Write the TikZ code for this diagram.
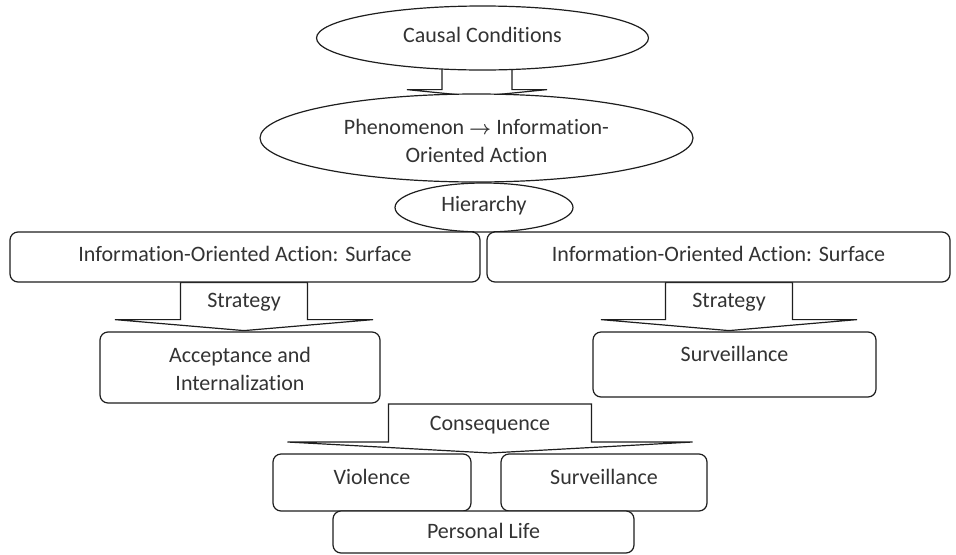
\documentclass[tikz,border=0pt]{standalone}
\usepackage{fontspec}
\setmainfont{Carlito}[Ligatures=NoCommon]
\usetikzlibrary{shapes.geometric,calc,backgrounds}

\definecolor{inkline}{HTML}{1E1E1E}
\definecolor{inktext}{HTML}{333333}

% Block arrow pointing down: #1 top-centre coordinate, #2 stem half width,
% #3 head half width, #4 stem length, #5 head depth
\newcommand\blockdown[5]{%
  \filldraw[blockarrow] ($#1+(-#2,0)$) -- ++(0,#4) -- ++({#2-#3},0)
    -- ($#1+(0,{#4+#5})$) -- ($#1+(#3,#4)$) -- ++({#2-#3},0)
    -- ++(0,-#4) -- cycle;}

\begin{document}
\begin{tikzpicture}[x=0.75pt,y=-0.75pt,
  every node/.style={font=\fontsize{16.5}{21}\selectfont, text=inktext},
  oval/.style={ellipse, draw=inkline, fill=white, line width=0.9pt, inner sep=0pt},
  card/.style={draw=inkline, fill=white, rounded corners=6pt, line width=0.9pt, inner sep=0pt},
  label/.style={inner sep=1pt, align=center},
  blockarrow/.style={draw=inkline, fill=white, line width=0.9pt, line join=miter}]
\useasboundingbox (0,0) rectangle (956,554);

% top chain
\node[oval, minimum width=249pt, minimum height=48pt] (cause) at (482.5,38) {};
\node[label] (causetext) at (482.5,35) {Causal Conditions};
\node[oval, minimum width=324.75pt, minimum height=66pt] (phen) at (476.5,138) {};
\node[label] (phentext) at (476.5,141) {Phenomenon {\fontsize{15}{21}\selectfont\boldmath$\rightarrow$} Information-\\Oriented Action};
\node[oval, minimum width=133.5pt, minimum height=36.75pt] (hier) at (484,207.5) {};
\node[label] (hiertext) at (484,206) {Hierarchy};

% surface boxes
\node[card, minimum width=352.5pt, minimum height=37.5pt] (surfL) at (245,257) {};
\node[label] (surfLtext) at (245,254) {Information-Oriented Action: Surface};
\node[card, minimum width=347.25pt, minimum height=37.5pt] (surfR) at (718.5,257) {};
\node[label] (surfRtext) at (718.5,254) {Information-Oriented Action: Surface};

% strategy outcomes
\node[card, minimum width=210pt, minimum height=53.25pt] (accept) at (240,367.5) {};
\node[label] (accepttext) at (240,369) {Acceptance and\\Internalization};
\node[card, minimum width=212.25pt, minimum height=48.75pt] (survR) at (734.5,364.5) {};
\node[label] (survRtext) at (734.5,354) {Surveillance};

% consequences
\node[card, minimum width=148.5pt, minimum height=42.75pt] (viol) at (372,482.5) {};
\node[label] (violtext) at (372,477) {Violence};
\node[card, minimum width=154.5pt, minimum height=42.75pt] (surv2) at (604,482.5) {};
\node[label] (surv2text) at (604,477) {Surveillance};
\node[card, minimum width=225.75pt, minimum height=31.5pt] (life) at (483.5,532) {};
\node[label] (lifetext) at (483.5,531) {Personal Life};

\coordinate (causeaxis) at ($(cause.south)+(-5.5,-10)$);
\coordinate (stratL) at ($(surfL.south)+(-1,0)$);
\coordinate (stratR) at ($(surfR.south)+(10.5,0)$);
\coordinate (conseq) at (490,404);

\begin{scope}[on background layer]
  \blockdown{(causeaxis)}{35}{70}{29}{7}
  \blockdown{(stratL)}{63.5}{129}{37}{11}
  \blockdown{(stratR)}{63.5}{128}{37}{11}
  \blockdown{(conseq)}{101.5}{202.5}{38}{11}
\end{scope}

\node[label] (stratLtext) at ($(stratL)+(0,20)$) {Strategy};
\node[label] (stratRtext) at ($(stratR)+(0,20)$) {Strategy};
\node[label] (conseqtext) at ($(conseq)+(0,21)$) {Consequence};
\end{tikzpicture}
\end{document}
